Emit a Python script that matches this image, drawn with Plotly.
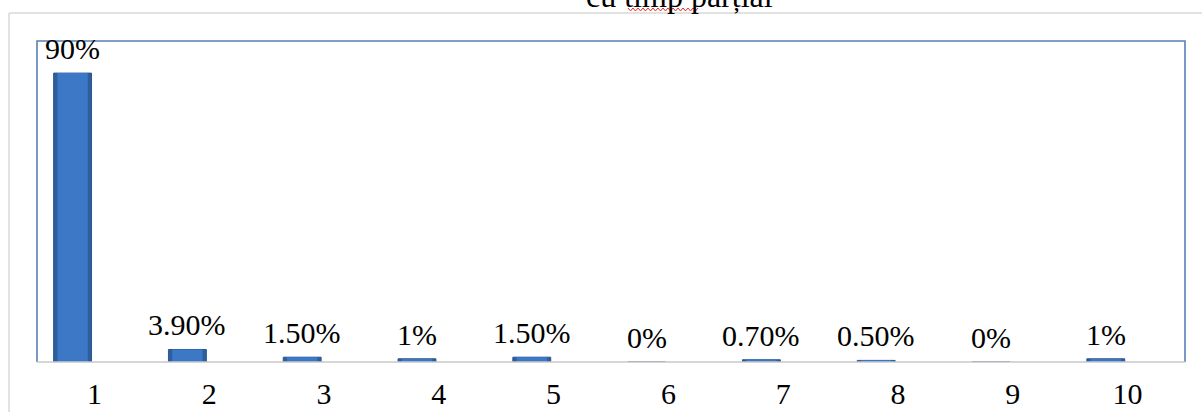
import plotly.graph_objects as go

categories = [1, 2, 3, 4, 5, 6, 7, 8, 9, 10]
values = [90, 3.9, 1.5, 1, 1.5, 0, 0.7, 0.5, 0, 1]
labels = ["90%", "3.90%", "1.50%", "1%", "1.50%", "0%", "0.70%", "0.50%", "0%", "1%"]
title_text = "cu timp parțial"

W, H = 1202, 412
L, R, T, B = 37, 17, 41, 50
pw, ph = W - L - R, H - T - B

def px_x(x):
    return (x - L) / pw

def px_y(y):
    return (H - B - y) / ph

FONT = "Liberation Serif, Times New Roman, serif"
BAR_W = 0.33
BAR_SHIFT = -0.19  # bars sit left of the category centre (clustered layout)
INNER = 0.80

fig = go.Figure()
fig.add_trace(go.Bar(
    x=categories, y=values, width=BAR_W, offset=BAR_SHIFT - BAR_W / 2,
    marker=dict(color="#2F5E9E", line=dict(color="#2A5590", width=1)),
    hoverinfo="skip",
))
fig.add_trace(go.Bar(
    x=categories, y=values, width=BAR_W * INNER,
    offset=BAR_SHIFT - BAR_W * INNER / 2,
    marker=dict(color="#3C78C6", line=dict(width=0)),
    hoverinfo="skip",
))

annotations = []
for c, v, t in zip(categories, values, labels):
    annotations.append(dict(x=c + BAR_SHIFT, y=v, text=t, xref="x", yref="y",
                            xanchor="center", yanchor="bottom", yshift=6,
                            showarrow=False,
                            font=dict(family=FONT, size=30, color="#000000")))
annotations.append(dict(text=title_text, xref="paper", yref="paper",
                        x=px_x(679), y=px_y(16), xanchor="center", yanchor="bottom",
                        showarrow=False,
                        font=dict(family=FONT, size=32, color="#000000")))

shapes = []
shapes.append(dict(type="line", xref="paper", yref="paper",
                   x0=px_x(9), x1=px_x(1210), y0=px_y(13), y1=px_y(13),
                   line=dict(color="#D9D9D9", width=1.5)))
shapes.append(dict(type="line", xref="paper", yref="paper",
                   x0=px_x(9), x1=px_x(9), y0=px_y(13), y1=px_y(420),
                   line=dict(color="#D9D9D9", width=1.5)))
shapes.append(dict(type="path", xref="paper", yref="paper",
                   path="M 0 0 L 0 1 L 1 1 L 1 0",
                   line=dict(color="#5780B5", width=1.6)))
shapes.append(dict(type="line", xref="paper", yref="paper",
                   x0=0, x1=1, y0=0, y1=0,
                   line=dict(color="#C8C8C8", width=1.5)))
pts = []
x = 628
i = 0
while x <= 700:
    pts.append((px_x(x), px_y(8 if i % 2 == 0 else 11)))
    x += 2.5
    i += 1
path = "M " + " L ".join(f"{a:.5f} {b:.5f}" for a, b in pts)
shapes.append(dict(type="path", xref="paper", yref="paper", path=path,
                   line=dict(color="#E03030", width=1)))

fig.update_layout(
    width=W, height=H,
    margin=dict(l=L, r=R, t=T, b=B, autoexpand=False),
    paper_bgcolor="white", plot_bgcolor="white",
    showlegend=False, barmode="overlay",
    shapes=shapes, annotations=annotations,
    xaxis=dict(range=[0.5, 10.5], tickmode="array", tickvals=categories,
               ticktext=[str(c) for c in categories], showgrid=False,
               zeroline=False, showline=False, ticks="", ticklabelstandoff=11,
               automargin=False,
               tickfont=dict(family=FONT, size=30, color="#000000")),
    yaxis=dict(range=[0, 100], visible=False, showgrid=False, zeroline=False,
               automargin=False),
)

fig.write_html("out.html", config={"displayModeBar": False},
               post_script="document.body.style.margin='0';document.body.style.overflow='hidden';")
